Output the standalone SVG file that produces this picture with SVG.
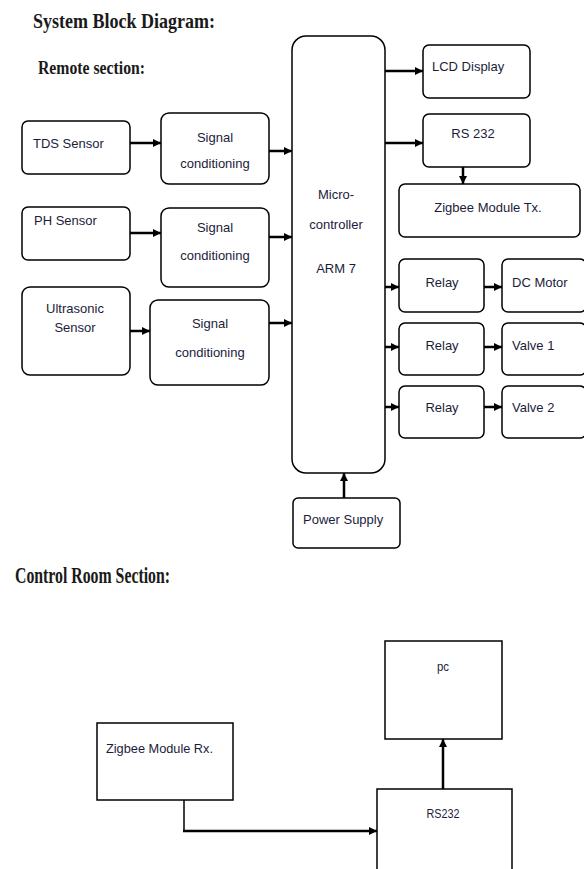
<svg xmlns="http://www.w3.org/2000/svg" width="584" height="869" viewBox="0 0 584 869">
<style>
.b{fill:#fff;stroke:#000;stroke-width:1.5}
.t{font-family:"Liberation Sans",Arial,sans-serif;font-size:13px;fill:#1c1c3a}
.c{text-anchor:middle}
.h{font-family:"Liberation Serif","Times New Roman",serif;font-weight:bold;fill:#1a1a1a}
.a{stroke:#000;stroke-width:2.5;fill:none;marker-end:url(#ah)}
</style>
<defs>
<marker id="ah" markerUnits="userSpaceOnUse" markerWidth="10" markerHeight="10" refX="9" refY="5" orient="auto">
<path d="M1,1 L9,5 L1,9 Z" fill="#000"/>
</marker>
</defs>
<rect width="584" height="869" fill="#fff"/>
<text class="h" x="33" y="28" font-size="21" textLength="182" lengthAdjust="spacingAndGlyphs">System Block Diagram:</text>
<text class="h" x="38" y="74" font-size="18" textLength="107" lengthAdjust="spacingAndGlyphs">Remote section:</text>
<text class="h" x="15" y="583" font-size="24" textLength="155" lengthAdjust="spacingAndGlyphs" font-weight="normal">Control Room Section:</text>

<g id="tds"><rect class="b" x="22" y="121" width="108" height="53" rx="6"/><text class="t" x="33" y="148">TDS Sensor</text></g>
<g id="sc1"><rect class="b" x="161" y="113" width="108" height="71" rx="8"/><text class="t c" x="215" y="142">Signal</text><text class="t c" x="215" y="168">conditioning</text></g>
<g id="ph"><rect class="b" x="22" y="207" width="108" height="53" rx="6"/><text class="t" x="34" y="225">PH Sensor</text></g>
<g id="sc2"><rect class="b" x="161" y="208" width="108" height="79" rx="8"/><text class="t c" x="215" y="232">Signal</text><text class="t c" x="215" y="260">conditioning</text></g>
<g id="ultra"><rect class="b" x="22" y="287" width="108" height="88" rx="8"/><text class="t c" x="75" y="313">Ultrasonic</text><text class="t c" x="75" y="332">Sensor</text></g>
<g id="sc3"><rect class="b" x="150" y="300" width="119" height="85" rx="8"/><text class="t c" x="210" y="328">Signal</text><text class="t c" x="210" y="357">conditioning</text></g>
<g id="mc"><rect class="b" x="292" y="36" width="93" height="437" rx="14"/><text class="t c" x="336" y="199">Micro-</text><text class="t c" x="336" y="229">controller</text><text class="t c" x="336" y="273">ARM 7</text></g>
<g id="lcd"><rect class="b" x="423" y="45" width="107" height="53" rx="6"/><text class="t" x="432" y="71">LCD Display</text></g>
<g id="rs232tx"><rect class="b" x="423" y="114" width="107" height="53" rx="6"/><text class="t c" x="473" y="138">RS 232</text></g>
<g id="zigtx"><rect class="b" x="399" y="184" width="181" height="53" rx="6"/><text class="t c" x="488" y="212">Zigbee Module Tx.</text></g>
<g id="relay1"><rect class="b" x="399" y="259" width="85" height="53" rx="6"/><text class="t c" x="442" y="287">Relay</text></g>
<g id="relay2"><rect class="b" x="399" y="323" width="85" height="52" rx="6"/><text class="t c" x="442" y="350">Relay</text></g>
<g id="relay3"><rect class="b" x="399" y="386" width="85" height="52" rx="6"/><text class="t c" x="442" y="412">Relay</text></g>
<g id="dcmotor"><rect class="b" x="502" y="259" width="84" height="53" rx="6"/><text class="t" x="512" y="287">DC Motor</text></g>
<g id="valve1"><rect class="b" x="502" y="323" width="84" height="52" rx="6"/><text class="t" x="512" y="350">Valve 1</text></g>
<g id="valve2"><rect class="b" x="502" y="386" width="84" height="52" rx="6"/><text class="t" x="512" y="412">Valve 2</text></g>
<g id="power"><rect class="b" x="293" y="498" width="107" height="50" rx="5"/><text class="t" x="303" y="524">Power Supply</text></g>

<g id="zigrx"><rect class="b" x="97" y="723" width="136" height="77" stroke-width="2"/><text class="t" x="106" y="753" font-size="12" textLength="107" lengthAdjust="spacingAndGlyphs">Zigbee Module Rx.</text></g>
<g id="pc"><rect class="b" x="385" y="641" width="117" height="98" stroke-width="2"/><text class="t c" x="443" y="671" font-size="12" textLength="12" lengthAdjust="spacingAndGlyphs">pc</text></g>
<g id="rs232rx"><rect class="b" x="377" y="789" width="135" height="90" stroke-width="2"/><text class="t c" x="443" y="818" font-size="12" textLength="33" lengthAdjust="spacingAndGlyphs">RS232</text></g>

<g id="connectors">
<line class="a" x1="130" y1="143" x2="161" y2="143"/>
<line class="a" x1="269" y1="151" x2="292" y2="151"/>
<line class="a" x1="130" y1="233" x2="161" y2="233"/>
<line class="a" x1="269" y1="237" x2="292" y2="237"/>
<line class="a" x1="130" y1="331" x2="150" y2="331"/>
<line class="a" x1="269" y1="323" x2="292" y2="323"/>
<line class="a" x1="385" y1="71" x2="423" y2="71"/>
<line class="a" x1="385" y1="143" x2="423" y2="143"/>
<line class="a" x1="463" y1="167" x2="463" y2="184"/>
<line class="a" x1="385" y1="287" x2="399" y2="287"/>
<line class="a" x1="385" y1="347" x2="399" y2="347"/>
<line class="a" x1="385" y1="407" x2="399" y2="407"/>
<line class="a" x1="484" y1="287" x2="502" y2="287"/>
<line class="a" x1="484" y1="347" x2="502" y2="347"/>
<line class="a" x1="484" y1="407" x2="502" y2="407" stroke-width="2"/>
<line class="a" x1="344" y1="498" x2="344" y2="473"/>
<line x1="184" y1="800" x2="184" y2="832" stroke="#000" stroke-width="1.5"/>
<line class="a" x1="183" y1="831" x2="377" y2="831" stroke-width="4"/>
<line class="a" x1="443" y1="789" x2="443" y2="739"/>
</g>
</svg>
